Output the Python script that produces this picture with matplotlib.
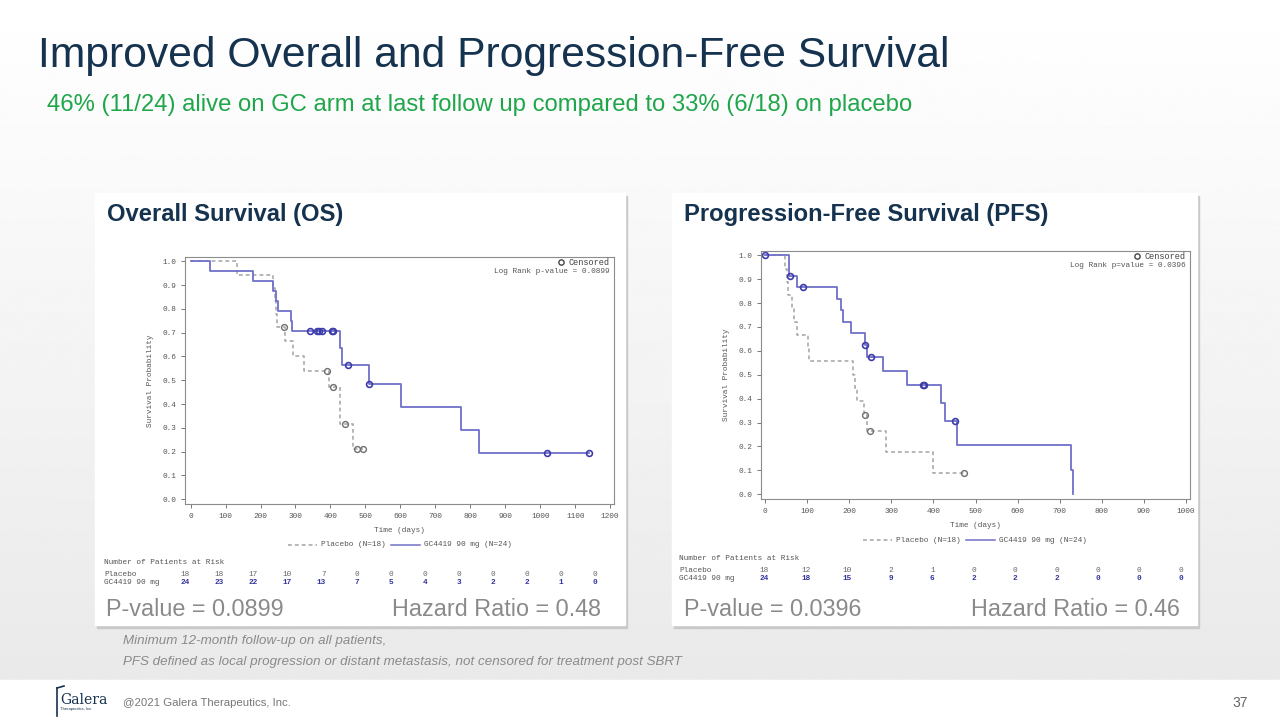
import matplotlib
matplotlib.use("Agg")
import matplotlib.pyplot as plt
import numpy as np
from matplotlib.patches import Rectangle
from matplotlib.lines import Line2D

W, H = 1280, 720

# ---- data ----
# Overall survival, GC4419 arm
os_gc_time = [0, 55, 179, 235, 245, 250, 286, 290, 426, 433, 510, 602, 774, 825, 1140]
os_gc_surv = [1.0, 0.958, 0.917, 0.875, 0.833, 0.792, 0.750, 0.708, 0.637, 0.566, 0.485, 0.388, 0.291, 0.194, 0.194]
os_gc_cens_time = [342, 361, 366, 377, 404, 408, 450, 510, 1019, 1140]
os_gc_cens_surv = [0.708, 0.708, 0.708, 0.708, 0.708, 0.708, 0.566, 0.485, 0.194, 0.194]
# Overall survival, placebo arm
os_pl_time = [0, 134, 236, 240, 245, 248, 269, 292, 323, 397, 428, 464, 492]
os_pl_surv = [1.0, 0.944, 0.889, 0.833, 0.778, 0.722, 0.664, 0.601, 0.541, 0.473, 0.315, 0.210, 0.210]
os_pl_cens_time = [267, 391, 407, 442, 475, 492]
os_pl_cens_surv = [0.722, 0.541, 0.473, 0.315, 0.210, 0.210]

# Progression-free survival, GC4419 arm
pfs_gc_time = [0, 57, 75, 170, 181, 186, 205, 237, 243, 279, 336, 418, 427, 455, 728, 733]
pfs_gc_surv = [1.0, 0.913, 0.866, 0.818, 0.770, 0.722, 0.674, 0.626, 0.574, 0.517, 0.459, 0.383, 0.306, 0.204, 0.102, 0.0]
pfs_gc_cens_time = [0, 60, 91, 238, 251, 375, 377, 452]
pfs_gc_cens_surv = [1.0, 0.913, 0.866, 0.626, 0.574, 0.459, 0.459, 0.306]
# Progression-free survival, placebo arm
pfs_pl_time = [0, 48, 51, 54, 63, 68, 76, 101, 105, 208, 214, 218, 236, 242, 288, 399, 473]
pfs_pl_surv = [1.0, 0.944, 0.889, 0.833, 0.778, 0.722, 0.667, 0.611, 0.556, 0.500, 0.444, 0.389, 0.333, 0.265, 0.177, 0.089, 0.089]
pfs_pl_cens_time = [238, 248, 473]
pfs_pl_cens_surv = [0.333, 0.265, 0.089]

# numbers at risk
os_ticks = [0, 100, 200, 300, 400, 500, 600, 700, 800, 900, 1000, 1100, 1200]
os_risk_pl = [18, 18, 17, 10, 7, 0, 0, 0, 0, 0, 0, 0, 0]
os_risk_gc = [24, 23, 22, 17, 13, 7, 5, 4, 3, 2, 2, 1, 0]
pfs_ticks = [0, 100, 200, 300, 400, 500, 600, 700, 800, 900, 1000]
pfs_risk_pl = [18, 12, 10, 2, 1, 0, 0, 0, 0, 0, 0]
pfs_risk_gc = [24, 18, 15, 9, 6, 2, 2, 2, 0, 0, 0]

# ---- colours / fonts ----
NAVY = "#15324f"
GREEN = "#1fa64a"
GREY_TXT = "#8a8a8a"
BLUE_LINE = "#7070c8"
BLUE_MARK = "#3c3caa"
PL_LINE = "#a3a3a3"
PL_MARK = "#6f6f6f"
MONO = "Liberation Mono"
SANS = "Liberation Sans"


def fx(x):
    return x / W


def fy(y):
    return 1 - y / H


def box(x0, y0, x1, y1):
    return [fx(x0), fy(y1), (x1 - x0) / W, (y1 - y0) / H]


fig = plt.figure(figsize=(12.8, 7.2), dpi=100)

# background gradient
bg = fig.add_axes([0, 0, 1, 1], zorder=-10)
grad = np.linspace(1.0, 0.915, 256).reshape(-1, 1)
bg.imshow(grad, cmap="gray", vmin=0, vmax=1, aspect="auto",
          extent=[0, W, 680, 0])
bg.add_patch(Rectangle((0, 680), W, 40, color="white"))
bg.set_xlim(0, W)
bg.set_ylim(H, 0)
bg.axis("off")

# panels with a soft shadow
for x0, x1 in [(95, 625), (672, 1197)]:
    bg.add_patch(Rectangle((x0 + 2, 196), x1 - x0, 432, color="#c9c9c9"))
    bg.add_patch(Rectangle((x0, 193), x1 - x0, 432, color="white"))

fig.text(fx(38), fy(56), "Improved Overall and Progression-Free Survival",
         fontsize=30.7, color=NAVY, family=SANS, va="center", ha="left")
fig.text(fx(47), fy(105), "46% (11/24) alive on GC arm at last follow up compared to 33% (6/18) on placebo",
         fontsize=17.2, color=GREEN, family=SANS, va="center", ha="left")


def km_panel(rect, t_gc, s_gc, ct_gc, cs_gc, t_pl, s_pl, ct_pl, cs_pl,
             xlim, ticks, pval_txt):
    ax = fig.add_axes(rect)
    ax.step(t_pl, s_pl, where="post", color=PL_LINE, lw=1.1, ls=(0, (2.5, 2)))
    ax.step(t_gc, s_gc, where="post", color=BLUE_LINE, lw=1.3)
    ax.plot(ct_pl, cs_pl, "o", ms=4.2, mfc="none", mec=PL_MARK, mew=1.0)
    ax.plot(ct_gc, cs_gc, "o", ms=4.2, mfc="none", mec=BLUE_MARK, mew=1.2)
    ax.set_xlim(*xlim)
    ax.set_ylim(-0.02, 1.018)
    ax.set_xticks(ticks)
    ax.set_yticks(np.arange(0, 1.01, 0.1))
    ax.set_yticklabels([f"{v:.1f}" for v in np.arange(0, 1.01, 0.1)])
    for sp in ax.spines.values():
        sp.set_color("#8c8c8c")
        sp.set_linewidth(0.8)
    ax.tick_params(colors="#777777", labelsize=5.6, length=3, width=0.7)
    for lab in ax.get_xticklabels() + ax.get_yticklabels():
        lab.set_family(MONO)
        lab.set_color("#555555")
    ax.set_xlabel("Time (days)", family=MONO, fontsize=5.6, color="#555555", labelpad=5)
    ax.set_ylabel("Survival Probability", family=MONO, fontsize=5.6, color="#555555", labelpad=6)
    ax.plot([0.876], [0.978], "o", ms=3.8, mfc="none", mec="#444444", mew=1.0,
            transform=ax.transAxes, clip_on=False)
    ax.text(0.99, 0.978, "Censored", transform=ax.transAxes, ha="right", va="center",
            family=MONO, fontsize=6.2, color="#444444")
    ax.text(0.99, 0.94, pval_txt, transform=ax.transAxes, ha="right", va="center",
            family=MONO, fontsize=5.6, color="#555555")
    return ax


def legend_row(xc, y):
    # dashed / solid keys with labels, centred near xc
    items = [("Placebo (N=18)", PL_LINE, (0, (2.5, 2))), ("GC4419 90 mg (N=24)", BLUE_LINE, "-")]
    x = xc - 112
    for label, col, ls in items:
        fig.add_artist(Line2D([fx(x), fx(x + 29)], [fy(y), fy(y)], color=col, ls=ls, lw=1.1))
        fig.text(fx(x + 33), fy(y), label, family=MONO, fontsize=5.6, color="#555555",
                 va="center", ha="left")
        x += 33 + 70


def risk_table(x_label, x0, step, y_title, y_pl, y_gc, pl, gc):
    fig.text(fx(x_label), fy(y_title), "Number of Patients at Risk", family=MONO,
             fontsize=5.6, color="#555555", va="center")
    fig.text(fx(x_label), fy(y_pl), "Placebo", family=MONO, fontsize=5.6, color="#555555", va="center")
    fig.text(fx(x_label), fy(y_gc), "GC4419 90 mg", family=MONO, fontsize=5.6, color="#555555", va="center")
    for i, (a, b) in enumerate(zip(pl, gc)):
        x = x0 + i * step
        fig.text(fx(x), fy(y_pl), str(a), family=MONO, fontsize=5.6, color="#666666",
                 va="center", ha="right")
        fig.text(fx(x), fy(y_gc), str(b), family=MONO, fontsize=5.6, color="#3333a0",
                 weight="bold", va="center", ha="right")


# ---- Overall survival panel ----
fig.text(fx(107), fy(214), "Overall Survival (OS)", fontsize=17.1, weight="bold",
         color=NAVY, family=SANS, va="center")
km_panel(box(185, 257, 614, 504), os_gc_time, os_gc_surv, os_gc_cens_time, os_gc_cens_surv,
         os_pl_time, os_pl_surv, os_pl_cens_time, os_pl_cens_surv,
         (-16, 1211), os_ticks, "Log Rank p-value = 0.0899")
legend_row(400, 545)
risk_table(104, 190, 33.9, 563, 574, 583, os_risk_pl, os_risk_gc)
fig.text(fx(106), fy(610), "P-value = 0.0899", fontsize=16.8, color=GREY_TXT, family=SANS, va="center")
fig.text(fx(601), fy(610), "Hazard Ratio = 0.48", fontsize=16.8, color=GREY_TXT, family=SANS,
         va="center", ha="right")

# ---- Progression-free survival panel ----
fig.text(fx(684), fy(214), "Progression-Free Survival (PFS)", fontsize=17.1, weight="bold",
         color=NAVY, family=SANS, va="center")
km_panel(box(761, 251, 1190, 499), pfs_gc_time, pfs_gc_surv, pfs_gc_cens_time, pfs_gc_cens_surv,
         pfs_pl_time, pfs_pl_surv, pfs_pl_cens_time, pfs_pl_cens_surv,
         (-10, 1010), pfs_ticks, "Log Rank p=value = 0.0396")
legend_row(975, 540)
risk_table(679, 769, 41.4, 558, 571, 579, pfs_risk_pl, pfs_risk_gc)
fig.text(fx(684), fy(610), "P-value = 0.0396", fontsize=16.8, color=GREY_TXT, family=SANS, va="center")
fig.text(fx(1180), fy(610), "Hazard Ratio = 0.46", fontsize=16.8, color=GREY_TXT, family=SANS,
         va="center", ha="right")

# ---- footnotes and footer ----
fig.text(fx(123), fy(641), "Minimum 12-month follow-up on all patients,", fontsize=9.6,
         style="italic", color=GREY_TXT, family=SANS, va="center")
fig.text(fx(123), fy(662), "PFS defined as local progression or distant metastasis, not censored for treatment post SBRT",
         fontsize=9.6, style="italic", color=GREY_TXT, family=SANS, va="center")
fig.text(fx(123), fy(703), "@2021 Galera Therapeutics, Inc.", fontsize=8.2, color="#777777",
         family=SANS, va="center")
fig.text(fx(1248), fy(703), "37", fontsize=10, color="#666666", family=SANS, va="center", ha="right")

# logo
fig.add_artist(Line2D([fx(57), fx(57)], [fy(688), fy(716)], color=NAVY, lw=1.2))
fig.add_artist(Line2D([fx(57), fx(64)], [fy(688), fy(686)], color=NAVY, lw=1.2))
fig.text(fx(60), fy(700), "Galera", fontsize=10, color=NAVY, family="DejaVu Serif", va="center")
fig.text(fx(60), fy(709), "Therapeutics, Inc", fontsize=3, color=NAVY, family=SANS, va="center")

fig.savefig("out.png", dpi=100)
